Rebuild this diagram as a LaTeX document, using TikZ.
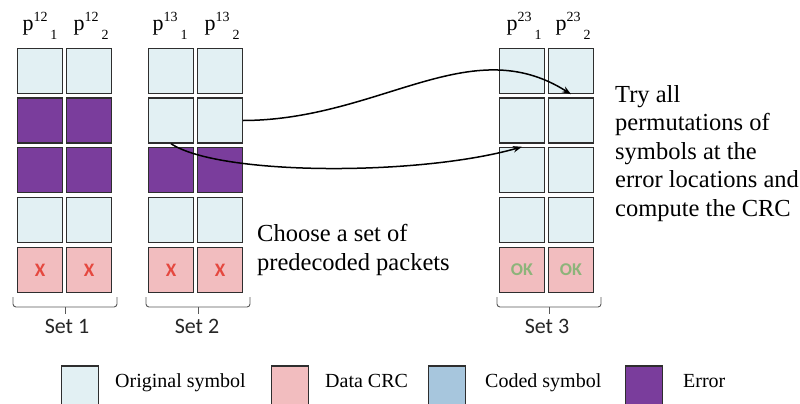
\documentclass[tikz,border=0pt]{standalone}
\usepackage{fontspec}
\setmainfont{Liberation Serif}
\newfontfamily\labfont{Carlito}
\usetikzlibrary{arrows.meta}

\definecolor{origc}{HTML}{E2F0F3}
\definecolor{crcc}{HTML}{F2BDBF}
\definecolor{codedc}{HTML}{A7C6DD}
\definecolor{errc}{HTML}{7A3D9C}
\definecolor{xred}{HTML}{E5483F}
\definecolor{okgreen}{HTML}{8DB47A}
\definecolor{edgec}{HTML}{2E2E2E}

% packet label p^{ab}_{c} with the index set to the right of the exponent
\newcommand{\plab}[2]{{\fontsize{22}{22}\selectfont p}\raisebox{8.5pt}{\fontsize{14}{14}\selectfont #1}\hspace{3pt}\raisebox{-9pt}{\fontsize{14}{14}\selectfont #2}}

\begin{document}
\begin{tikzpicture}[x=1pt,y=-1pt,
  cell/.style={draw=edgec, line width=1.4pt, minimum width=45pt, minimum height=45pt, inner sep=0pt},
  orig/.style={cell, fill=origc},
  crc/.style={cell, fill=crcc},
  err/.style={cell, fill=errc},
  xmark/.style={font=\labfont\bfseries\fontsize{19}{19}\selectfont, text=xred},
  okmark/.style={font=\labfont\bfseries\fontsize{18}{18}\selectfont, text=okgreen},
  plabel/.style={anchor=base, inner sep=0pt},
  setlab/.style={anchor=base, inner sep=0pt, font=\labfont\fontsize{22}{22}\selectfont, text=black!85},
  brk/.style={draw=black!65, line width=0.9pt, rounded corners=3pt},
  link/.style={draw=black, line width=1.5pt, -{Stealth[length=9pt,width=6.5pt]}},
  body/.style={anchor=base west, inner sep=0pt, align=left, font=\fontsize{24.5}{28.5}\selectfont},
  legbox/.style={draw=edgec, line width=1.4pt, minimum width=37pt, minimum height=40pt, inner sep=0pt},
  legtext/.style={anchor=base west, inner sep=0pt, font=\fontsize{20}{20}\selectfont}
]
\clip (0,0) rectangle (800,404);
\fill[white] (0,0) rectangle (800,404);

% ---- Set 1 ----
\node[orig] (s1r1c1) at (40,71) {};    \node[orig] (s1r1c2) at (89,71) {};
\node[err]  (s1r2c1) at (40,120.5) {}; \node[err]  (s1r2c2) at (89,120.5) {};
\node[err]  (s1r3c1) at (40,170) {};   \node[err]  (s1r3c2) at (89,170) {};
\node[orig] (s1r4c1) at (40,220) {};   \node[orig] (s1r4c2) at (89,220) {};
\node[crc, xmark] (s1r5c1) at (40,270) {X}; \node[crc, xmark] (s1r5c2) at (89,270) {X};
\node[plabel] (p121) at (40,30.5) {\plab{12}{1}};
\node[plabel] (p122) at (91,30.5) {\plab{12}{2}};

% ---- Set 2 ----
\node[orig] (s2r1c1) at (171,71) {};    \node[orig] (s2r1c2) at (220,71) {};
\node[orig] (s2r2c1) at (171,120.5) {}; \node[orig] (s2r2c2) at (220,120.5) {};
\node[err]  (s2r3c1) at (171,170) {};   \node[err]  (s2r3c2) at (220,170) {};
\node[orig] (s2r4c1) at (171,220) {};   \node[orig] (s2r4c2) at (220,220) {};
\node[crc, xmark] (s2r5c1) at (171,270) {X}; \node[crc, xmark] (s2r5c2) at (220,270) {X};
\node[plabel] (p131) at (170,30.5) {\plab{13}{1}};
\node[plabel] (p132) at (222,30.5) {\plab{13}{2}};

% ---- Set 3 ----
\node[orig] (s3r1c1) at (522,71) {};    \node[orig] (s3r1c2) at (571,71) {};
\node[orig] (s3r2c1) at (522,120.5) {}; \node[orig] (s3r2c2) at (571,120.5) {};
\node[orig] (s3r3c1) at (522,170) {};   \node[orig] (s3r3c2) at (571,170) {};
\node[orig] (s3r4c1) at (522,220) {};   \node[orig] (s3r4c2) at (571,220) {};
\node[crc, okmark] (s3r5c1) at (522,270) {OK}; \node[crc, okmark] (s3r5c2) at (571,270) {OK};
\node[plabel] (p231) at (524,30.5) {\plab{23}{1}};
\node[plabel] (p232) at (573,30.5) {\plab{23}{2}};

% ---- brackets under the sets ----
\draw[brk] (13,297) |- (117,307) -- (117,297);  \draw[brk] (65,307) -- (65,314);
\draw[brk] (146,297) |- (250,307) -- (250,297); \draw[brk] (198,307) -- (198,314);
\draw[brk] (497,297) |- (601,307) -- (601,297); \draw[brk] (549,307) -- (549,314);
\node[setlab] (set1) at (67,333) {Set 1};
\node[setlab] (set2) at (197,333) {Set 2};
\node[setlab] (set3) at (547,333) {Set 3};

% ---- moves between the sets ----
\draw[link] (s2r2c2.east) .. controls (380,120) and (470,30) .. (s3r1c2.south);
\draw[link] (s2r2c1.south) .. controls (220,176) and (420,176) .. (s3r3c1.north);

% ---- explanations (anchored at the baseline of their last line) ----
\node[body] (choose) at (257,270) {Choose a set of\\predecoded packets};
\node[body] (tryall) at (615,216) {Try all\\permutations of\\symbols at the\\error locations and\\compute the CRC};

% ---- legend ----
\node[legbox, fill=origc]  (lg1) at (80,386) {};
\node[legtext] (lt1) at (115,387) {Original symbol};
\node[legbox, fill=crcc]   (lg2) at (290,386) {};
\node[legtext] (lt2) at (325,387) {Data CRC};
\node[legbox, fill=codedc] (lg3) at (447,386) {};
\node[legtext] (lt3) at (485,387) {Coded symbol};
\node[legbox, fill=errc]   (lg4) at (644,386) {};
\node[legtext] (lt4) at (683,387) {Error};
\end{tikzpicture}
\end{document}
